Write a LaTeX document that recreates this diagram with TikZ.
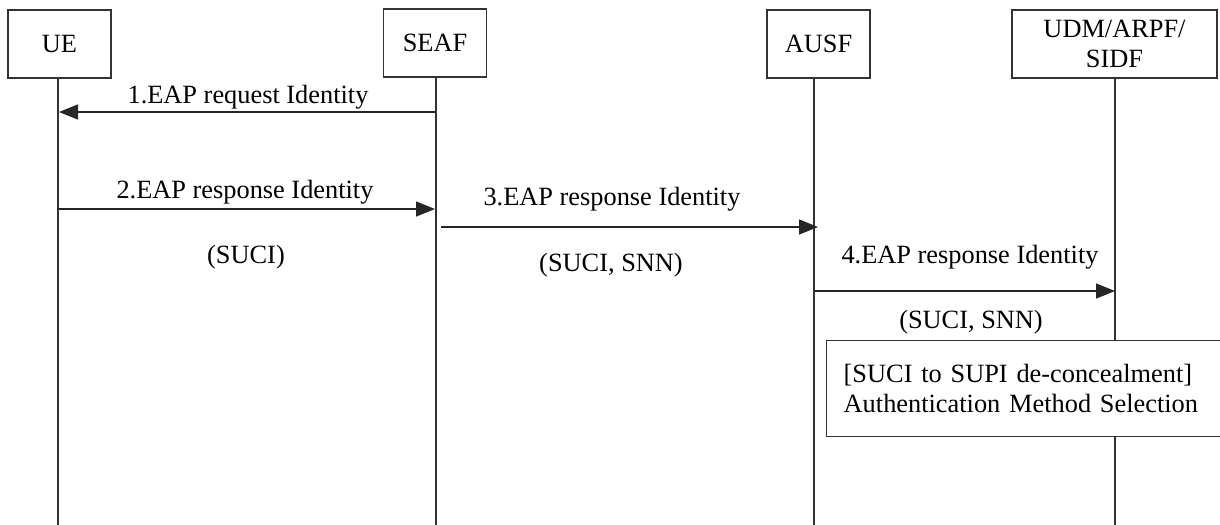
\documentclass[tikz,border=0pt]{standalone}
\usepackage{fontspec}
\setmainfont{Liberation Serif}
\usetikzlibrary{arrows.meta}

\begin{document}
\begin{tikzpicture}[x=0.2mm,y=0.2mm]
\tikzstyle{every node}+=[font=\fontsize{15}{17}\selectfont]
\tikzstyle{entity}=[draw=black!80, line width=0.8pt, minimum width=2.06cm, minimum height=1.36cm, align=center]
\tikzstyle{life}=[draw=black!80, line width=0.8pt]
\tikzstyle{msg}=[draw=black!85, line width=0.8pt, -{Triangle[length=0.38cm,width=0.3cm]}]
\useasboundingbox (0,0) rectangle (1220,-524);
\clip (0,0) rectangle (1220,-524);
% entities
\node [entity] (ue) at (59.5,-44) {UE};
\node [entity] (seaf) at (435,-43) {SEAF};
\node [entity] (ausf) at (818.5,-44) {AUSF};
\node [entity, minimum width=4.1cm, inner sep=1pt] (udm) at (1114.5,-44) {UDM/ARPF/\\SIDF};
% lifelines
\coordinate (ueend) at (58,-530);
\coordinate (seafend) at (436,-530);
\coordinate (ausfend) at (814,-530);
\coordinate (udmend) at (1115,-530);
\draw [life] (ue.south -| ueend) -- (ueend);
\draw [life] (seaf.south -| seafend) -- (seafend);
\draw [life] (ausf.south -| ausfend) -- (ausfend);
\draw [life] (udm.south -| udmend) -- (udmend);
% message end points
\coordinate (m1a) at (436,-112);
\coordinate (m1b) at (59,-112);
\coordinate (m2a) at (58,-209);
\coordinate (m2b) at (435,-209);
\coordinate (m3a) at (441,-227);
\coordinate (m3b) at (818,-227);
\coordinate (m4a) at (814,-291);
\coordinate (m4b) at (1115,-291);
% messages
\draw [msg] (m1a) -- (m1b);
\node (l1) at (248,-97) {1.EAP request Identity};
\draw [msg] (m2a) -- (m2b);
\node (l2) at (245,-192) {2.EAP response Identity};
\node (p2) at (246,-257) {(SUCI)};
\draw [msg] (m3a) -- (m3b);
\node (l3) at (612,-199) {3.EAP response Identity};
\node (p3) at (611,-265) {(SUCI, SNN)};
\draw [msg] (m4a) -- (m4b);
\node (l4) at (970,-257) {4.EAP response Identity};
\node (p4) at (971,-322) {(SUCI, SNN)};
% action box
\node [draw=black!80, fill=white, line width=0.8pt, anchor=north west, text width=7.5cm, inner xsep=0.34cm, minimum height=1.92cm, align=left] (sel) at (826,-340) {[SUCI to SUPI de-concealment]\\Authentication Method Selection};
\end{tikzpicture}
\end{document}
